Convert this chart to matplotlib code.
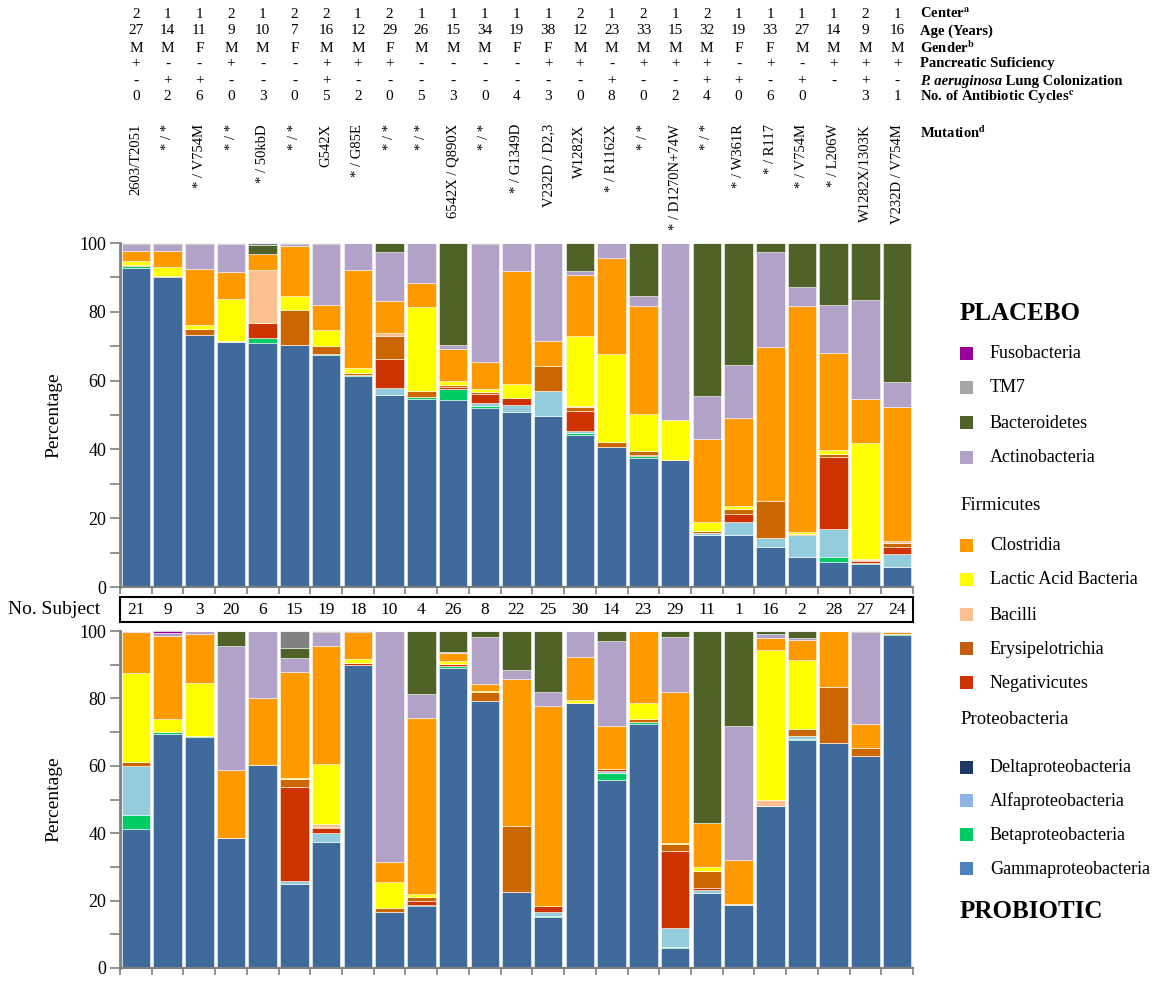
import matplotlib
matplotlib.use('Agg')
import matplotlib.pyplot as plt
from matplotlib.patches import Rectangle
from matplotlib.transforms import blended_transform_factory
from matplotlib.ticker import MultipleLocator
import numpy as np

plt.rcParams['font.family'] = ['Liberation Serif', 'DejaVu Serif']
plt.rcParams['mathtext.fontset'] = 'stix'

# Subjects (order of the columns) and clinical header rows
subjects = [21, 9, 3, 20, 6, 15, 19, 18, 10, 4, 26, 8, 22, 25, 30, 14, 23, 29, 11, 1, 16, 2, 28, 27, 24]
center = [2, 1, 1, 2, 1, 2, 2, 1, 2, 1, 1, 1, 1, 1, 2, 1, 2, 1, 2, 1, 1, 1, 1, 2, 1]
age = [27, 14, 11, 9, 10, 7, 16, 12, 29, 26, 15, 34, 19, 38, 12, 23, 33, 15, 32, 19, 33, 27, 14, 9, 16]
gender = ['M', 'M', 'F', 'M', 'M', 'F', 'M', 'M', 'F', 'M', 'M', 'M', 'F', 'F', 'M', 'M', 'M', 'M', 'M', 'F', 'F', 'M', 'M', 'M', 'M']
pancreatic = ['+', '-', '-', '+', '-', '-', '+', '+', '+', '-', '-', '-', '-', '+', '+', '-', '+', '+', '+', '-', '+', '-', '+', '+', '+']
p_aeruginosa = ['-', '+', '+', '-', '-', '-', '+', '-', '-', '-', '-', '-', '-', '-', '-', '+', '-', '-', '+', '+', '-', '+', '-', '+', '-']
antibiotic = ['0', '2', '6', '0', '3', '0', '5', '2', '0', '5', '3', '0', '4', '3', '0', '8', '0', '2', '4', '0', '6', '0', '', '3', '1']
mutation = ['2603/T2051', '* / *', '* / V754M', '* / *', '* / 50kbD', '* / *', 'G542X', '* / G85E',
            '* / *', '* / *', '6542X / Q890X', '* / *', '* / G1349D', 'V232D / D2,3', 'W1282X',
            '* / R1162X', '* / *', '* / D1270N+74W', '* / *', '* / W361R', '* / R117', '* / V754M',
            '* / L206W', 'W1282X/1303K', 'V232D / V754M']

# Placebo (upper panel), percentages per taxon
pla_gamma = [92.8, 90.1, 73.3, 71.2, 70.9, 70.3, 67.5, 61.4, 55.8, 54.7, 54.4, 52.0, 51.0, 49.8, 44.3, 40.8, 37.6, 37.0, 15.0, 15.0, 11.5, 8.6, 7.4, 6.7, 5.8]
pla_beta = [0.4, 0, 0, 0, 1.5, 0, 0.2, 0.3, 0, 0.6, 3.2, 0.7, 0, 0, 0.5, 0, 0.4, 0, 0, 0, 0, 0.2, 1.4, 0.3, 0]
pla_alfa = [0, 0, 0, 0, 0, 0, 0, 0, 2.0, 0, 0, 0.7, 1.9, 7.2, 0.5, 0, 0, 0, 0.6, 3.9, 2.7, 6.2, 8.2, 0, 3.9]
pla_delta = [0] * 25
pla_neg = [0.3, 0, 0, 0, 4.3, 0, 0, 0, 8.5, 0, 0.6, 2.8, 2.0, 0, 6.0, 0, 0.5, 0, 0.2, 2.3, 0, 0, 20.8, 0.6, 1.9]
pla_ery = [0, 0.4, 1.7, 0, 0, 10.3, 2.3, 0.5, 6.6, 1.7, 0.4, 0.6, 0, 7.2, 1.0, 1.4, 1.1, 0, 0.6, 1.5, 10.7, 0.3, 1.0, 0.2, 1.3]
pla_bacilli = [0, 0, 0, 0.3, 15.5, 0, 0, 0, 1.0, 0, 0, 0, 0, 0, 0.3, 0, 0, 0, 0, 0, 0, 0, 0, 0.2, 0.5]
pla_lactic = [1.4, 2.6, 1.3, 12.1, 0, 4.1, 4.6, 1.5, 0, 24.3, 1.3, 0.8, 4.2, 0, 20.4, 25.4, 10.6, 11.5, 2.4, 0.8, 0, 0.6, 1.1, 34.0, 0]
pla_clost = [2.8, 4.5, 16.0, 8.0, 4.5, 14.3, 7.3, 28.4, 9.2, 7.1, 9.4, 7.7, 32.8, 7.2, 17.6, 28.0, 31.4, 0, 24.2, 25.5, 44.9, 65.9, 28.2, 12.6, 38.8]
pla_actino = [2.1, 2.0, 7.5, 8.0, 0, 0.8, 17.8, 7.9, 14.3, 11.6, 1.0, 34.3, 8.1, 28.6, 1.4, 4.3, 2.9, 51.5, 12.6, 15.6, 27.6, 5.3, 14.0, 28.8, 7.5]
pla_bacteroid = [0.2, 0.4, 0.2, 0.2, 2.7, 0.2, 0.3, 0, 2.6, 0, 29.7, 0.4, 0, 0, 8.0, 0.1, 15.5, 0, 44.4, 35.4, 2.6, 12.9, 17.9, 16.6, 40.3]
pla_tm7 = [0, 0, 0, 0.2, 0.6, 0, 0, 0, 0, 0, 0, 0, 0, 0, 0, 0, 0, 0, 0, 0, 0, 0, 0, 0, 0]
pla_fuso = [0] * 25

# Probiotic (lower panel)
pro_gamma = [41.3, 69.5, 68.4, 38.7, 60.1, 25.0, 37.3, 89.9, 16.7, 18.5, 89.1, 79.1, 22.7, 15.0, 78.7, 55.7, 72.4, 5.8, 22.3, 18.6, 48.1, 67.8, 66.8, 62.9, 98.7]
pro_beta = [4.2, 0.5, 0.4, 0, 0, 0, 0, 0, 0, 0, 0.5, 0.2, 0, 0.4, 0, 2.1, 0.5, 0.3, 0, 0, 0, 0.3, 0, 0, 0.3]
pro_alfa = [14.5, 0, 0, 0, 0, 0.9, 2.7, 0, 0, 0, 0, 0, 0, 1.3, 0, 0.8, 0.2, 5.8, 0.8, 0.3, 0, 0.6, 0, 0, 0]
pro_delta = [0, 0, 0, 0, 0, 0, 0, 0, 0, 0.3, 0, 0, 0, 0, 0, 0, 0, 0, 0, 0, 0, 0, 0, 0, 0]
pro_neg = [0, 0, 0, 0, 0, 27.9, 1.4, 0.5, 0, 1.0, 0.7, 0, 0, 1.6, 0, 0.5, 0, 22.7, 0.5, 0, 0, 0, 0, 0, 0]
pro_ery = [1.2, 0, 0, 0, 0, 2.2, 0.4, 0, 1.2, 1.2, 0, 2.5, 19.4, 0, 0, 0, 0.8, 2.2, 5.2, 0, 0, 2.2, 16.7, 2.4, 0]
pro_bacilli = [0, 0, 0, 0, 0, 0, 0.8, 0, 0, 0, 0, 0, 0, 0, 0, 0, 0, 0, 0, 0, 1.9, 0, 0, 0, 0]
pro_lactic = [26.2, 4.0, 15.9, 0, 0, 0.5, 17.8, 1.2, 7.7, 1.1, 0.8, 0.5, 0, 0, 0.8, 0, 4.8, 0.2, 1.3, 0, 44.5, 20.5, 0, 0, 0]
pro_clost = [12.2, 24.5, 14.3, 20.2, 20.0, 31.3, 35.1, 8.0, 5.8, 52.0, 2.4, 2.0, 43.7, 59.5, 12.7, 12.6, 21.3, 45.0, 13.0, 13.1, 3.4, 6.0, 16.5, 7.0, 0.6]
pro_actino = [0.4, 1.0, 0.9, 36.6, 19.9, 4.2, 4.1, 0, 68.6, 7.1, 0.3, 13.8, 2.5, 4.1, 7.8, 25.4, 0, 16.1, 0, 39.9, 1.3, 0.4, 0, 27.3, 0.4]
pro_bacteroid = [0, 0, 0.1, 4.5, 0, 3.1, 0.4, 0.4, 0, 18.8, 6.2, 1.9, 11.7, 18.1, 0, 2.9, 0, 1.9, 56.9, 28.1, 0.8, 2.2, 0, 0.4, 0]
pro_tm7 = [0, 0, 0, 0, 0, 4.9, 0, 0, 0, 0, 0, 0, 0, 0, 0, 0, 0, 0, 0, 0, 0, 0, 0, 0, 0]
pro_fuso = [0, 0.5, 0, 0, 0, 0, 0, 0, 0, 0, 0, 0, 0, 0, 0, 0, 0, 0, 0, 0, 0, 0, 0, 0, 0]

# stacking order from the bottom
taxa_colors = ['#416A9C', '#00CC66', '#93CDDD', '#1F3864', '#CC3300', '#CC6600',
               '#FAC090', '#FFFF00', '#FF9900', '#B3A2C7', '#4F6228', '#808080', '#990099']
placebo = [pla_gamma, pla_beta, pla_alfa, pla_delta, pla_neg, pla_ery, pla_bacilli,
           pla_lactic, pla_clost, pla_actino, pla_bacteroid, pla_tm7, pla_fuso]
probiotic = [pro_gamma, pro_beta, pro_alfa, pro_delta, pro_neg, pro_ery, pro_bacilli,
             pro_lactic, pro_clost, pro_actino, pro_bacteroid, pro_tm7, pro_fuso]

W, H = 1157, 981


def fx(px):
    return px / W


def fy(py):
    return 1 - py / H


fig = plt.figure(figsize=(W / 100, H / 100), dpi=100)
x = np.arange(len(subjects))
AX_L, AX_R = 120, 913


def draw_panel(ax, series):
    bottom = np.zeros(len(subjects))
    for vals, col in zip(series, taxa_colors):
        vals = np.array(vals, dtype=float)
        ax.bar(x, vals, width=0.9, bottom=bottom, color=col,
               edgecolor=(1, 1, 1, 0.6), linewidth=0.6)
        bottom += vals
    ax.set_xlim(-0.5, len(subjects) - 0.5)
    ax.set_ylim(0, 100)
    ax.yaxis.set_major_locator(MultipleLocator(20))
    ax.yaxis.set_minor_locator(MultipleLocator(10))
    ax.tick_params(axis='y', which='both', length=7, width=1.2, color='#808080',
                   labelsize=13, pad=3)
    for s in ['top', 'right']:
        ax.spines[s].set_visible(False)
    ax.spines['left'].set_color('#808080')
    ax.spines['left'].set_linewidth(2)
    ax.spines['bottom'].set_color('#808080')
    ax.spines['bottom'].set_linewidth(1.5)
    ax.set_xticks(np.arange(-0.5, len(subjects), 1.0))
    ax.tick_params(axis='x', length=5, width=1.2, color='#808080', labelbottom=False)
    ax.set_ylabel('Percentage', fontsize=14)
    ax.yaxis.set_label_coords(-0.073, 0.5)


ax_top = fig.add_axes([fx(AX_L), fy(587), fx(AX_R) - fx(AX_L), (587 - 243) / H])
ax_bot = fig.add_axes([fx(AX_L), fy(968), fx(AX_R) - fx(AX_L), (968 - 631) / H])
draw_panel(ax_top, placebo)
draw_panel(ax_bot, probiotic)

# subject number strip
ax_sub = fig.add_axes([fx(AX_L), fy(622), fx(AX_R) - fx(AX_L), 25 / H])
ax_sub.set_xlim(-0.5, len(subjects) - 0.5)
ax_sub.set_ylim(0, 1)
ax_sub.set_xticks([])
ax_sub.set_yticks([])
for s in ax_sub.spines.values():
    s.set_linewidth(1.5)
    s.set_color('black')
for i, s in enumerate(subjects):
    ax_sub.text(i, 0.5, str(s), ha='center', va='center', fontsize=12.5)
fig.text(fx(8), fy(609), 'No. Subject', ha='left', va='center', fontsize=14)

# header rows
tr = blended_transform_factory(ax_top.transData, fig.transFigure)
rows = [(center, 14), (age, 31), (gender, 48), (pancreatic, 64), (p_aeruginosa, 81), (antibiotic, 97)]
for vals, ypx in rows:
    for i, v in enumerate(vals):
        fig.text(i, fy(ypx), str(v), transform=tr, ha='center', va='center', fontsize=11)
for i, m in enumerate(mutation):
    fig.text(i, fy(124), m, transform=tr, ha='center', va='top', rotation=90, fontsize=10.5)

RX = fx(920)
fig.text(RX, fy(14), r'Center$^{\mathbf{a}}$', fontsize=10.5, weight='bold', va='center')
fig.text(RX, fy(31), 'Age (Years)', fontsize=10.5, weight='bold', va='center')
fig.text(RX, fy(48), r'Gender$^{\mathbf{b}}$', fontsize=10.5, weight='bold', va='center')
fig.text(RX, fy(64), 'Pancreatic Suficiency', fontsize=10.5, weight='bold', va='center')
t1 = fig.text(RX, fy(81), 'P. aeruginosa', fontsize=10.5, weight='bold', style='italic', va='center')
fig.text(RX, fy(97), r'No. of Antibiotic Cycles$^{\mathbf{c}}$', fontsize=10.5, weight='bold', va='center')
fig.text(RX, fy(133), r'Mutation$^{\mathbf{d}}$', fontsize=10.5, weight='bold', va='center')
fig.canvas.draw()
bb = t1.get_window_extent()
fig.text(bb.x1 / fig.bbox.width, fy(81), ' Lung Colonization', fontsize=10.5, weight='bold', va='center')

# legend
fig.text(fx(960), fy(313), 'PLACEBO', fontsize=18, weight='bold', va='center')
fig.text(fx(960), fy(912), 'PROBIOTIC', fontsize=18, weight='bold', va='center')
fig.text(fx(960), fy(506), 'Firmicutes', fontsize=13.5, va='center')
fig.text(fx(960), fy(720), 'Proteobacteria', fontsize=13.5, va='center')
legend_items = [
    ('Fusobacteria', '#990099', 354), ('TM7', '#A6A6A6', 388),
    ('Bacteroidetes', '#4F6228', 423), ('Actinobacteria', '#B3A2C7', 458),
    ('Clostridia', '#FF9900', 546), ('Lactic Acid Bacteria', '#FFFF00', 580),
    ('Bacilli', '#FAC090', 615), ('Erysipelotrichia', '#C55A11', 649),
    ('Negativicutes', '#CC3300', 683), ('Deltaproteobacteria', '#1F3864', 768),
    ('Alfaproteobacteria', '#8DB4E2', 801), ('Betaproteobacteria', '#00CC66', 835),
    ('Gammaproteobacteria', '#4F81BD', 869),
]
for label, col, ypx in legend_items:
    fig.patches.append(Rectangle((fx(960), fy(ypx + 6)), 13 / W, 13 / H,
                                 transform=fig.transFigure, facecolor=col, edgecolor='none'))
    fig.text(fx(990), fy(ypx), label, fontsize=13, va='center')

fig.savefig('out.png', dpi=100)
